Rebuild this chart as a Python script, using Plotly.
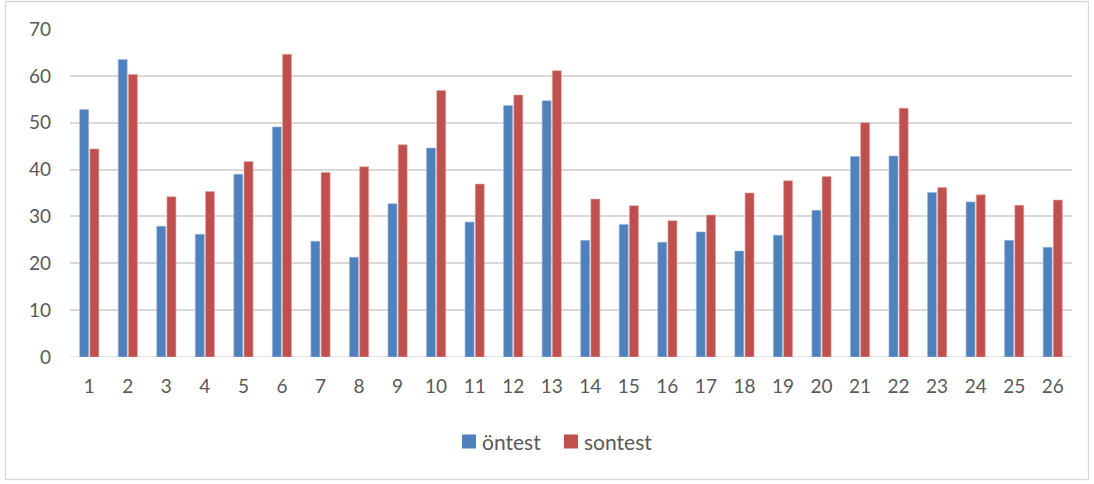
import plotly.graph_objects as go

# Student numbers and scores
students = [str(i) for i in range(1, 27)]
ontest = [52.8, 63.5, 27.9, 26.2, 39.0, 49.1, 24.7, 21.3, 32.7, 44.6, 28.8, 53.7, 54.7,
          24.9, 28.3, 24.5, 26.7, 22.6, 26.0, 31.3, 42.8, 42.9, 35.1, 33.1, 24.9, 23.4]
sontest = [44.4, 60.3, 34.2, 35.3, 41.7, 64.6, 39.4, 40.6, 45.3, 56.9, 36.9, 55.9, 61.1,
           33.7, 32.3, 29.1, 30.3, 35.0, 37.6, 38.5, 50.0, 53.1, 36.2, 34.6, 32.4, 33.5]
y_ticks = [0, 10, 20, 30, 40, 50, 60, 70]

BLUE = "#4F81BD"
RED = "#C0504D"
TEXT = "#595959"
GRID = "#D9D9D9"
FONT = "Lato, 'Open Sans', sans-serif"

W, H = 1094, 484
L, R, T, B = 70, 22, 29, 127
pw, ph = W - L - R, H - T - B

fig = go.Figure()
fig.add_trace(go.Bar(x=students, y=ontest, name="öntest",
                     marker=dict(color=BLUE, line=dict(color="#9DB8DC", width=0.6))))
fig.add_trace(go.Bar(x=students, y=sontest, name="sontest",
                     marker=dict(color=RED, line=dict(color="#E0A3A1", width=0.6))))


def px_x(v):
    return (v - L) / pw


def px_y(v):
    return (H - B - v) / ph


# Legend drawn as swatches plus labels, centred under the plot
legend_y = 441.5
shapes = [
    dict(type="line", xref="paper", yref="y", x0=0, x1=1, y0=0, y1=0,
         line=dict(color=GRID, width=1.5), layer="below"),
    dict(type="rect", xref="paper", yref="paper",
         x0=px_x(5.5), x1=px_x(1088.5), y0=px_y(479.5), y1=px_y(1.5),
         line=dict(color="#D9D9D9", width=1.3)),
]
annotations = []
for name, color, sx in [("öntest", BLUE, 462), ("sontest", RED, 564)]:
    shapes.append(dict(type="rect", xref="paper", yref="paper",
                       x0=px_x(sx), x1=px_x(sx + 14),
                       y0=px_y(legend_y + 7), y1=px_y(legend_y - 7),
                       fillcolor=color, line=dict(width=0)))
    annotations.append(dict(xref="paper", yref="paper", x=px_x(sx + 18), y=px_y(legend_y),
                            xanchor="left", yanchor="middle", showarrow=False, text=name,
                            font=dict(family=FONT, size=21, color=TEXT)))

fig.update_layout(
    width=W, height=H,
    margin=dict(l=L, r=R, t=T, b=B),
    paper_bgcolor="white", plot_bgcolor="white",
    barmode="group", bargap=0.47, bargroupgap=0.12,
    font=dict(family=FONT, size=19, color=TEXT),
    showlegend=False,
    xaxis=dict(showgrid=False, showline=False, ticks="", tickfont=dict(size=19, color=TEXT),
               ticklabelstandoff=16),
    yaxis=dict(range=[0, 70], tickvals=y_ticks, showgrid=True, gridcolor=GRID, gridwidth=1.5,
               zeroline=False, showline=False, ticks="", tickfont=dict(size=19, color=TEXT),
               ticklabelstandoff=18),
    shapes=shapes,
    annotations=annotations,
)

fig.write_html("out.html")
